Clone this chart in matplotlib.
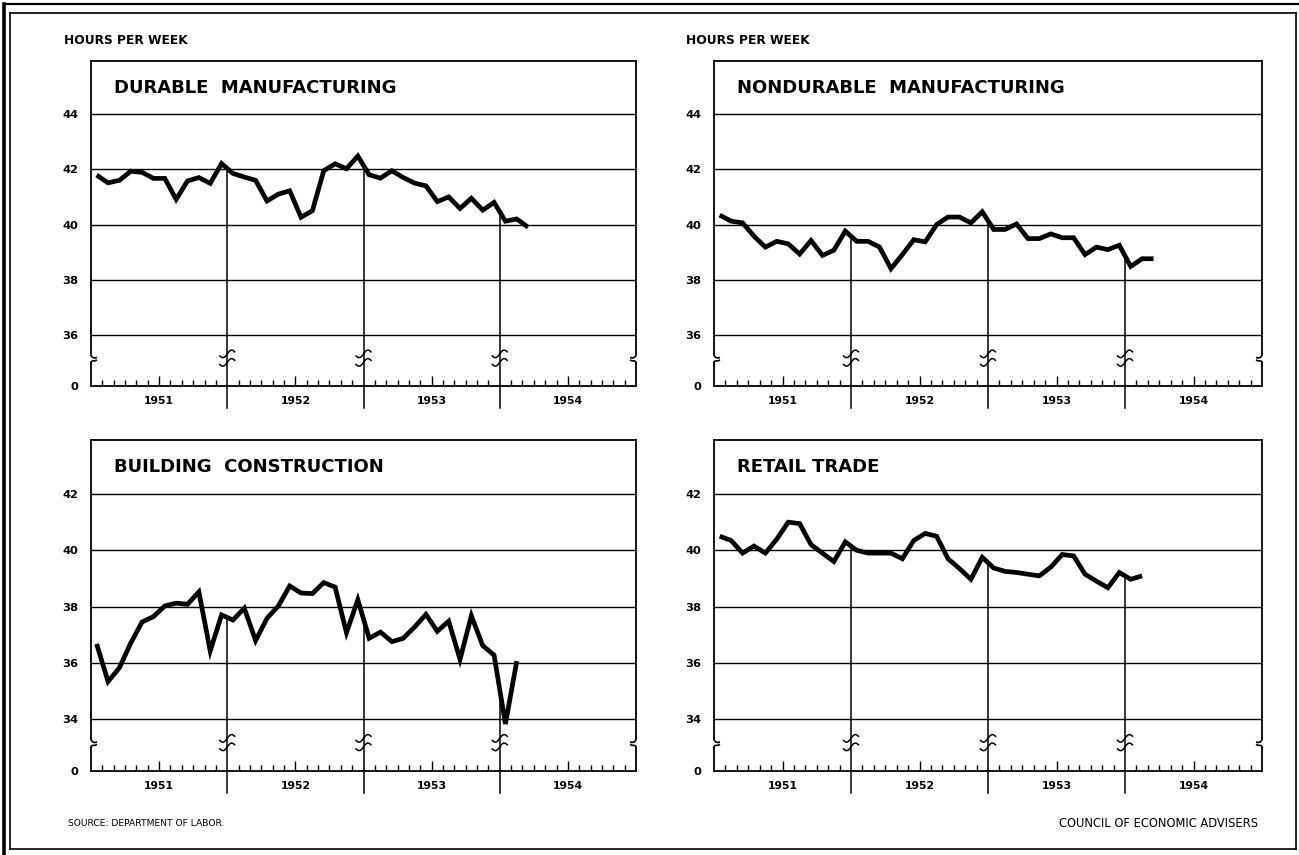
import numpy as np
import matplotlib
matplotlib.use('Agg')
import matplotlib.pyplot as plt
import matplotlib.transforms as mtransforms
from matplotlib.lines import Line2D

plt.rcParams['font.family'] = ['DejaVu Sans']

W, H = 1299, 855

# average weekly hours, monthly from Jan 1951
YEARS = ['1951', '1952', '1953', '1954']

durable = [41.79, 41.51, 41.60, 41.93, 41.89, 41.67, 41.67, 40.91, 41.58, 41.70, 41.49, 42.21,
           41.85, 41.72, 41.60, 40.85, 41.10, 41.22, 40.26, 40.50, 41.95, 42.20, 42.02, 42.48,
           41.80, 41.68, 41.95, 41.70, 41.50, 41.40, 40.83, 41.00, 40.58, 40.95, 40.52, 40.80,
           40.12, 40.20, 39.90]

nondurable = [40.34, 40.12, 40.06, 39.58, 39.18, 39.39, 39.30, 38.93, 39.42, 38.88, 39.07, 39.76,
              39.39, 39.39, 39.18, 38.40, 38.91, 39.45, 39.37, 40.00, 40.27, 40.27, 40.06, 40.46,
              39.82, 39.82, 40.02, 39.49, 39.49, 39.66, 39.52, 39.52, 38.91, 39.18, 39.09, 39.25,
              38.48, 38.76, 38.76]

building = [36.67, 35.33, 35.82, 36.70, 37.45, 37.64, 38.02, 38.12, 38.08, 38.52, 36.42, 37.70,
            37.52, 37.94, 36.79, 37.58, 38.02, 38.73, 38.48, 38.46, 38.85, 38.69, 37.07, 38.24,
            36.87, 37.09, 36.75, 36.87, 37.27, 37.72, 37.12, 37.48, 36.12, 37.67, 36.61, 36.27,
            33.82, 36.06]

retail = [40.50, 40.35, 39.90, 40.15, 39.90, 40.40, 41.00, 40.95, 40.20, 39.90, 39.60, 40.30,
          40.00, 39.90, 39.90, 39.90, 39.70, 40.35, 40.60, 40.50, 39.70, 39.35, 38.97, 39.75,
          39.37, 39.25, 39.21, 39.15, 39.09, 39.40, 39.85, 39.80, 39.15, 38.90, 38.67, 39.21,
          38.97, 39.09]


def fig_x(px):
    return px / W


def fig_y(py):
    return 1 - py / H


def squiggle(fig, ax, x, y, pts, lw=1.0):
    # pts in pixel offsets around data point (x, y)
    trans = fig.dpi_scale_trans + mtransforms.ScaledTranslation(x, y, ax.transData)
    arr = np.asarray(pts, dtype=float) / fig.dpi
    ax.plot(arr[:, 0], arr[:, 1], transform=trans, color='black', lw=lw,
            clip_on=False, solid_capstyle='butt')


def tilde(cx=0.0, cy=0.0, half=8.0, amp=3.0):
    t = np.linspace(-1, 1, 21)
    return np.column_stack([cx + half * t, cy + amp * np.sin(np.pi * t) + 1.5 * t])


def draw_panel(fig, box, title, values, lo, hi):
    left, top, right, bottom = box
    ax = fig.add_axes([fig_x(left), fig_y(bottom), fig_x(right - left), (bottom - top) / H])
    px_per_unit = 27.55
    ymin = lo - (51 / px_per_unit)
    ymax = hi + (53 / px_per_unit)
    ax.set_xlim(0, 48)
    ax.set_ylim(ymin, ymax)

    for s in ['left', 'right']:
        ax.spines[s].set_visible(False)
    for s in ['top', 'bottom']:
        ax.spines[s].set_linewidth(1.3)

    # gridlines
    for v in range(lo, hi + 1, 2):
        ax.axhline(v, color='black', lw=1.0, zorder=1)

    # data
    months = np.arange(len(values)) + 0.5
    ax.plot(months, values, color='black', lw=3.4, solid_joinstyle='miter',
            solid_capstyle='butt', zorder=3)

    # axis break position
    brk = lo - 0.85
    g = 5.0 / px_per_unit
    # left and right edges with breaks
    for xe, sgn in [(0, 1), (48, -1)]:
        ax.plot([xe, xe], [brk + g, ymax], color='black', lw=1.3, clip_on=False)
        ax.plot([xe, xe], [ymin, brk - g], color='black', lw=1.3, clip_on=False)
        squiggle(fig, ax, xe, brk, [(0, 5), (0, 3), (sgn * 1.5, 1), (sgn * 4, 0.3), (sgn * 6, 1)], lw=1.2)
        squiggle(fig, ax, xe, brk, [(0, -5), (0, -3.5), (sgn * 1.5, -2.5), (sgn * 4, -2.5), (sgn * 6, -1.5)], lw=1.2)

    # year dividers rising up to the curve
    for m in (12, 24, 36):
        top_v = np.interp(m, months, values)
        ax.plot([m, m], [ymin - 22 / px_per_unit, top_v], color='black', lw=1.1,
                clip_on=False, zorder=2)
        squiggle(fig, ax, m, brk, tilde(0, 4.5), lw=1.1)
        squiggle(fig, ax, m, brk, tilde(0, -4.0), lw=1.1)

    # ticks
    major = [6, 18, 30, 42]
    minor = [m for m in range(1, 48) if m not in major and m % 12 != 0]
    ax.set_xticks(major)
    ax.set_xticklabels(YEARS)
    ax.set_xticks(minor, minor=True)
    ax.tick_params(axis='x', which='major', direction='in', length=7.5, width=1.0,
                   pad=7, labelsize=7.8)
    ax.tick_params(axis='x', which='minor', direction='in', length=4.5, width=1.0)
    for lab in ax.get_xticklabels():
        lab.set_fontweight('bold')

    yt = [ymin] + list(range(lo, hi + 1, 2))
    ax.set_yticks(yt)
    ax.set_yticklabels(['0'] + [str(v) for v in range(lo, hi + 1, 2)])
    ax.tick_params(axis='y', length=0, pad=9, labelsize=8.2)
    for lab in ax.get_yticklabels():
        lab.set_fontweight('bold')

    ax.text(23 / (right - left), 1 - 26.5 / (bottom - top), title, transform=ax.transAxes,
            ha='left', va='center', fontsize=13, fontweight='bold')
    return ax


fig = plt.figure(figsize=(W / 100, H / 100), dpi=100)

draw_panel(fig, (91, 61, 636, 386), 'DURABLE  MANUFACTURING', durable, 36, 44)
draw_panel(fig, (714, 61, 1262, 386), 'NONDURABLE  MANUFACTURING', nondurable, 36, 44)
draw_panel(fig, (91, 440, 636, 771), 'BUILDING  CONSTRUCTION', building, 34, 42)
draw_panel(fig, (714, 440, 1262, 771), 'RETAIL TRADE', retail, 34, 42)

fig.text(fig_x(64), fig_y(41), 'HOURS PER WEEK', fontsize=8.8, fontweight='bold', va='center')
fig.text(fig_x(686), fig_y(41), 'HOURS PER WEEK', fontsize=8.8, fontweight='bold', va='center')
fig.text(fig_x(68), fig_y(823), 'SOURCE: DEPARTMENT OF LABOR.', fontsize=6.6,
         va='center')
fig.text(fig_x(1258), fig_y(823), 'COUNCIL OF ECONOMIC ADVISERS', fontsize=8.3,
         ha='right', va='center')

# outer frame
frame = [
    ([10, 1296], [13, 13], 1.2),
    ([10, 1296], [849, 849], 1.2),
    ([10, 10], [13, 849], 1.2),
    ([1296, 1296], [13, 849], 1.2),
    ([4, 4], [4, 855], 2.6),
    ([4, 1299], [4, 4], 1.6),
]
for xs, ys, lw in frame:
    fig.add_artist(Line2D([fig_x(x) for x in xs], [fig_y(y) for y in ys],
                          transform=fig.transFigure, color='black', lw=lw))

fig.savefig('out.png', dpi=100)
